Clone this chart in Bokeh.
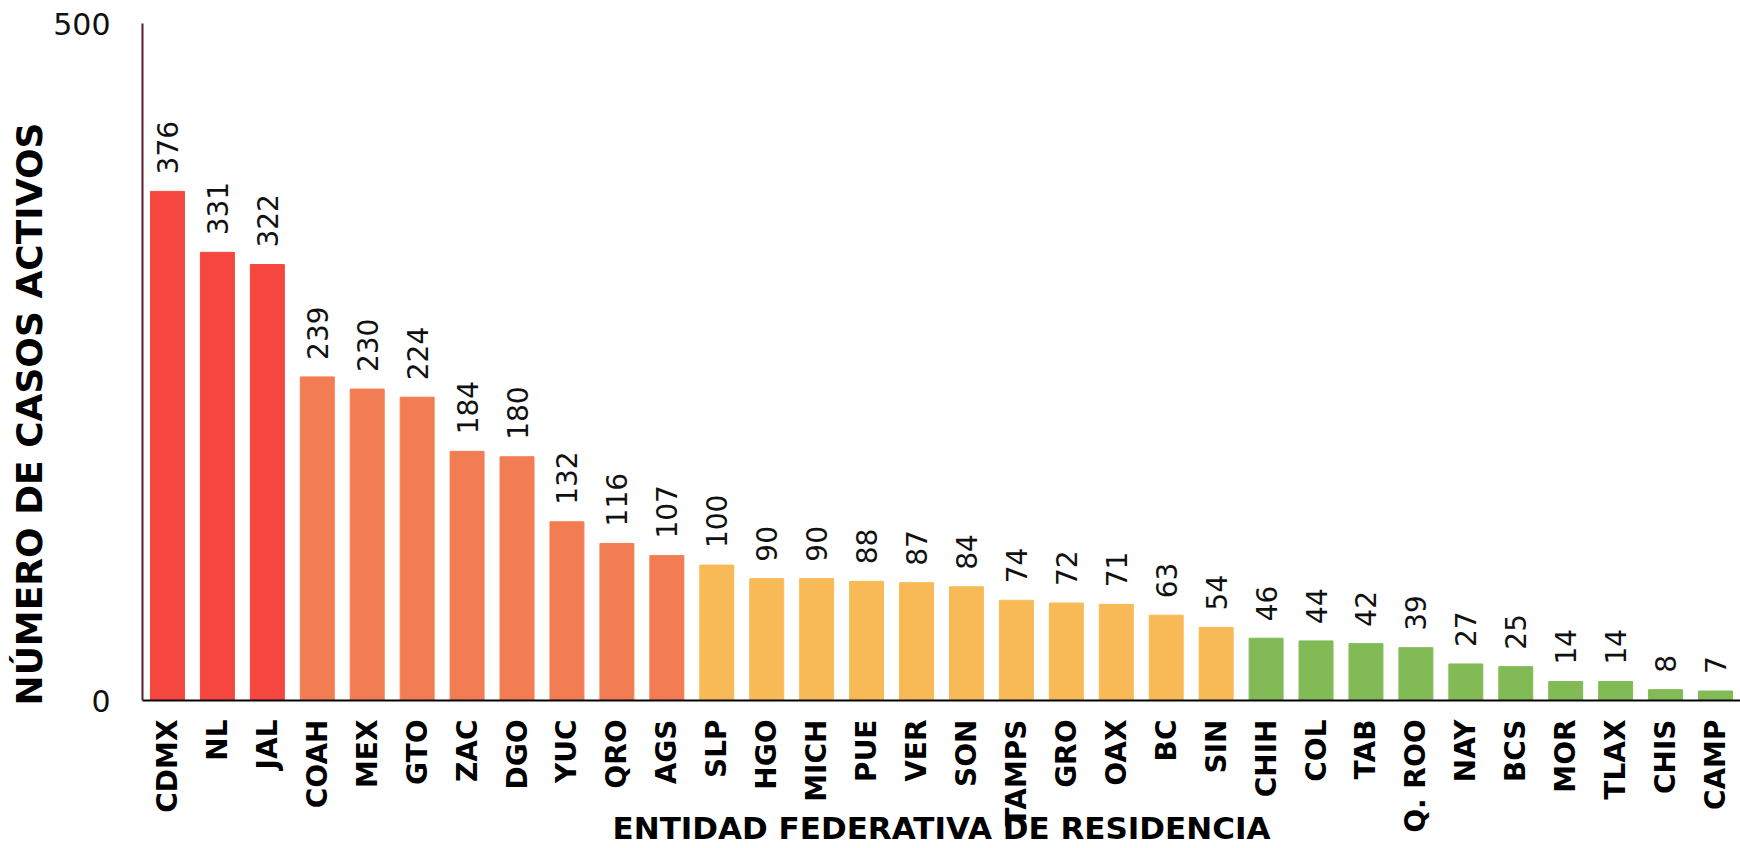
import math
from bokeh.plotting import figure
from bokeh.models import FactorRange, Range1d, FixedTicker, ColumnDataSource, Title
from bokeh.core.properties import value
from bokeh.embed import file_html
from bokeh.resources import INLINE

estados = ["CDMX", "NL", "JAL", "COAH", "MEX", "GTO", "ZAC", "DGO", "YUC", "QRO",
           "AGS", "SLP", "HGO", "MICH", "PUE", "VER", "SON", "TAMPS", "GRO", "OAX",
           "BC", "SIN", "CHIH", "COL", "TAB", "Q. ROO", "NAY", "BCS", "MOR", "TLAX",
           "CHIS", "CAMP"]
casos = [376, 331, 322, 239, 230, 224, 184, 180, 132, 116,
         107, 100, 90, 90, 88, 87, 84, 74, 72, 71,
         63, 54, 46, 44, 42, 39, 27, 25, 14, 14,
         8, 7]
grupos = (["alto"] * 3 + ["medio_alto"] * 8 + ["medio"] * 11 + ["bajo"] * 10)
y_ticks = [0, 500]

colores = {"alto": "#F5473F", "medio_alto": "#F37D52", "medio": "#F8BA56", "bajo": "#82BB55"}

src = ColumnDataSource(dict(
    estado=estados,
    casos=casos,
    etiqueta=[str(c) for c in casos],
    color=[colores[g] for g in grupos],
))

p = figure(x_range=FactorRange(factors=estados), y_range=Range1d(0, 500),
           width=1740, height=848, output_backend="svg", toolbar_location=None,
           min_border_left=142, min_border_top=23, min_border_right=0,
           min_border_bottom=148)

p.vbar(x="estado", top="casos", width=0.68, color="color", source=src)
p.text(x="estado", y="casos", text="etiqueta", angle=math.pi / 2,
       text_align="left", text_baseline="middle", y_offset=-17,
       text_font=value("DejaVu Sans"), text_font_size="28px", text_color="#111111",
       source=src)

p.outline_line_color = None
p.xgrid.grid_line_color = None
p.ygrid.grid_line_color = "#ececec"
p.ygrid.grid_line_width = 1.5
p.yaxis.ticker = FixedTicker(ticks=y_ticks)

p.yaxis.axis_line_color = "#5e1b33"
p.yaxis.axis_line_width = 2
p.yaxis.major_tick_line_color = None
p.yaxis.minor_tick_line_color = None
p.yaxis.major_label_standoff = 26
p.yaxis.major_label_text_font = "DejaVu Sans"
p.yaxis.major_label_text_font_size = "30px"
p.yaxis.major_label_text_color = "#111111"

p.add_layout(Title(text="NÚMERO DE CASOS ACTIVOS", align="left", offset=-5,
                   standoff=2, text_font="DejaVu Sans", text_font_style="bold",
                   text_font_size="36px", text_color="#000000"), "left")

p.xaxis.axis_line_color = "#000000"
p.xaxis.axis_line_width = 2
p.xaxis.major_tick_line_color = None
p.xaxis.minor_tick_line_color = None
p.xaxis.major_label_orientation = math.pi / 2
p.xaxis.major_label_standoff = 13
p.xaxis.major_label_text_font = "DejaVu Sans"
p.xaxis.major_label_text_font_style = "bold"
p.xaxis.major_label_text_font_size = "28px"
p.xaxis.major_label_text_color = "#000000"
p.xaxis.axis_label = "ENTIDAD FEDERATIVA DE RESIDENCIA"
p.xaxis.axis_label_text_font = "DejaVu Sans"
p.xaxis.axis_label_text_font_style = "bold"
p.xaxis.axis_label_text_font_size = "31px"
p.xaxis.axis_label_text_color = "#000000"
p.xaxis.axis_label_standoff = -26

open("out.html", "w").write(file_html(p, INLINE))
